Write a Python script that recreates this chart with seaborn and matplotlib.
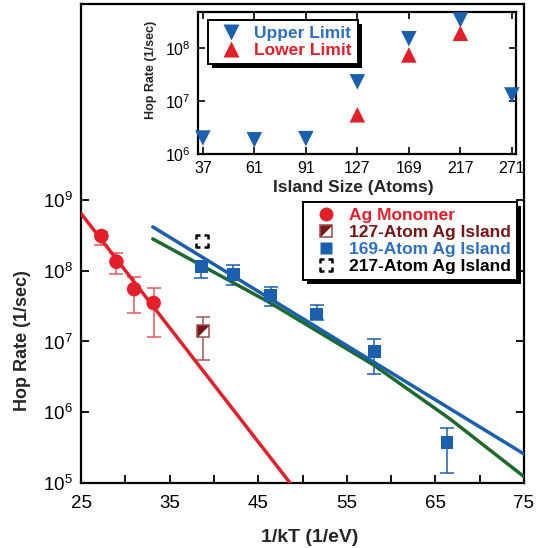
import numpy as np
import pandas as pd
import matplotlib
matplotlib.use("Agg")
import matplotlib.pyplot as plt
import seaborn as sns
from matplotlib.lines import Line2D
from matplotlib.path import Path
from matplotlib.patches import Rectangle
from matplotlib.transforms import IdentityTransform
from matplotlib.ticker import NullLocator

# ---------------- data ----------------
# main panel: hop rate vs 1/kT
mono_x = [27.3, 29.0, 31.0, 33.2]
mono_y = [3.1e8, 1.34e8, 5.5e7, 3.5e7]
mono_lo = [2.29e8, 8.9e7, 2.55e7, 1.17e7]
mono_hi = [3.55e8, 1.8e8, 8.24e7, 5.75e7]

isl127_x = [38.8]
isl127_y = [1.4e7]
isl127_lo = [5.5e6]
isl127_hi = [2.19e7]

isl169_x = [38.6, 42.2, 46.4, 51.6, 58.1, 66.3]
isl169_y = [1.14e8, 8.9e7, 4.5e7, 2.45e7, 7.2e6, 3.7e5]
isl169_lo = [7.8e7, 6.3e7, 3.2e7, 2.0e7, 3.47e6, 1.37e5]
isl169_hi = [1.35e8, 1.2e8, 5.96e7, 3.28e7, 1.07e7, 6.0e5]

isl217_x = [38.7]
isl217_y = [2.6e8]

# fit lines (log10 of rate at given 1/kT)
fit_mono_x = [25.0, 48.6]
fit_mono_logy = [8.81, 5.0]
fit_blue_x = [33.1, 75.0]
fit_blue_logy = [8.62, 5.41]
fit_green_x = [33.1, 46.3, 58.0, 66.6, 75.0]
fit_green_logy = [8.45, 7.55, 6.67, 5.91, 5.09]

legend_labels = ["Ag Monomer", "127-Atom Ag Island", "169-Atom Ag Island", "217-Atom Ag Island"]

main_xticks = [25, 30, 35, 40, 45, 50, 55, 60, 65, 70, 75]
main_xticklabels = ["25", "", "35", "", "45", "", "55", "", "65", "", "75"]
main_yticks = [1e5, 1e6, 1e7, 1e8, 1e9]
main_yticklabels = [r"$\mathregular{10^{5}}$", r"$\mathregular{10^{6}}$", r"$\mathregular{10^{7}}$",
                    r"$\mathregular{10^{8}}$", r"$\mathregular{10^{9}}$"]

# inset: limits vs island size
island_sizes = ["37", "61", "91", "127", "169", "217", "271"]
upper_sizes = ["37", "61", "91", "127", "169", "217", "271"]
upper_vals = [2.0e6, 1.85e6, 1.95e6, 2.3e7, 1.5e8, 3.4e8, 1.3e7]
lower_sizes = ["127", "169", "217"]
lower_vals = [5.5e6, 7.4e7, 1.9e8]
inset_yticks = [1e6, 1e7, 1e8]
inset_yticklabels = [r"$\mathregular{10^{6}}$", r"$\mathregular{10^{7}}$", r"$\mathregular{10^{8}}$"]
inset_legend_labels = ["Upper Limit", "Lower Limit"]

# ---------------- style ----------------
RED = "#e3202a"
DARKRED = "#7a1616"
DARKRED_EDGE = "#a65656"
BLUE = "#1a5fb0"
BLUE_TXT = "#2f6fc4"
GREEN = "#1d6b2c"

sns.set_theme(style="ticks")
plt.rcParams["font.family"] = ["Liberation Sans", "DejaVu Sans"]
plt.rcParams["mathtext.fontset"] = "custom"
plt.rcParams["mathtext.rm"] = "Liberation Sans"
plt.rcParams["mathtext.it"] = "Liberation Sans:italic"
plt.rcParams["mathtext.bf"] = "Liberation Sans:bold"

W, H = 541, 548
fig = plt.figure(figsize=(W / 100, H / 100), dpi=100)

def fx(px):
    return px / W

def fy(py):
    return 1 - py / H

# ---------------- main axes ----------------
ax = fig.add_axes([fx(81), fy(483), (524 - 81) / W, (483 - 4) / H])
ax.set_yscale("log")

# fit lines
sns.lineplot(x=fit_mono_x, y=10 ** np.array(fit_mono_logy), ax=ax, color=RED, lw=2.5,
             estimator=None, sort=False, zorder=3)
sns.lineplot(x=fit_green_x, y=10 ** np.array(fit_green_logy), ax=ax, color=GREEN, lw=2.5,
             estimator=None, sort=False, zorder=3)
sns.lineplot(x=fit_blue_x, y=10 ** np.array(fit_blue_logy), ax=ax, color=BLUE, lw=2.5,
             estimator=None, sort=False, zorder=3)

def yerr(y, lo, hi):
    y = np.array(y); lo = np.array(lo); hi = np.array(hi)
    return [y - lo, hi - y]

ax.errorbar(mono_x, mono_y, yerr=yerr(mono_y, mono_lo, mono_hi), fmt="none",
            ecolor="#e5585c", elinewidth=1.1, capsize=5, capthick=1.1, zorder=2)
ax.errorbar(isl127_x, isl127_y, yerr=yerr(isl127_y, isl127_lo, isl127_hi), fmt="none",
            ecolor=DARKRED_EDGE, elinewidth=1.1, capsize=5, capthick=1.1, zorder=2)
ax.errorbar(isl169_x, isl169_y, yerr=yerr(isl169_y, isl169_lo, isl169_hi), fmt="none",
            ecolor=BLUE, elinewidth=1.1, capsize=5, capthick=1.1, zorder=2)

# markers
sns.scatterplot(x=mono_x, y=mono_y, ax=ax, marker="o", s=110, color=RED,
                edgecolor="none", zorder=4)
sns.scatterplot(x=isl169_x, y=isl169_y, ax=ax, marker="s", s=85, color=BLUE,
                edgecolor="none", zorder=4)

tri_marker = Path([(-1, -1), (-1, 1), (1, 1), (-1, -1)],
                  [Path.MOVETO, Path.LINETO, Path.LINETO, Path.CLOSEPOLY])
ax.plot(isl127_x, isl127_y, ls="none", marker="s", ms=8.5, mfc="white",
        mec=DARKRED_EDGE, mew=1.2, zorder=4)
ax.plot(isl127_x, isl127_y, ls="none", marker=tri_marker, ms=8.5, mfc=DARKRED,
        mec="none", zorder=5)

c = 0.3
corner_verts = [(-1, c), (-1, 1), (-c, 1),
                (c, 1), (1, 1), (1, c),
                (1, -c), (1, -1), (c, -1),
                (-c, -1), (-1, -1), (-1, -c)]
corner_codes = [Path.MOVETO, Path.LINETO, Path.LINETO] * 4
corner_marker = Path(corner_verts, corner_codes)
ax.plot(isl217_x, isl217_y, ls="none", marker=corner_marker, ms=9, mfc="none",
        mec="black", mew=1.8, zorder=4)

ax.set_xlim(25, 75)
ax.set_ylim(1e5, 10 ** 11.77)
ax.set_xticks(main_xticks, main_xticklabels)
ax.set_yticks(main_yticks, main_yticklabels)
ax.yaxis.set_minor_locator(NullLocator())
ax.tick_params(axis="both", which="major", direction="in", length=6, width=1.3,
               color="black", labelsize=13.5, labelcolor="black")
ax.tick_params(axis="y", right=True, pad=6)
ax.tick_params(axis="x", top=False, pad=9)
for sp in ax.spines.values():
    sp.set_visible(True)
    sp.set_linewidth(1.6)
    sp.set_color("black")
ax.set_xlabel("")
ax.set_ylabel("")

fig.text(fx(23), fy(341), "Hop Rate (1/sec)", rotation=90, ha="center", va="center",
         fontsize=13, fontweight="bold")
fig.text(fx(310), fy(537), "1/kT (1/eV)", ha="center", va="center",
         fontsize=14, fontweight="bold")

handles = [
    Line2D([], [], ls="none", marker="o", ms=10, color=RED, mec="none"),
    (Line2D([], [], ls="none", marker="s", ms=8.5, mfc="white", mec=DARKRED_EDGE, mew=1.2),
     Line2D([], [], ls="none", marker=tri_marker, ms=8.5, mfc=DARKRED, mec="none")),
    Line2D([], [], ls="none", marker="s", ms=9, color=BLUE, mec="none"),
    Line2D([], [], ls="none", marker=corner_marker, ms=9, mfc="none", mec="black", mew=1.8),
]
leg = ax.legend(handles, legend_labels, loc="upper left",
                bbox_to_anchor=(fx(302.7), fy(201.7)), bbox_transform=fig.transFigure,
                frameon=True, fancybox=False, framealpha=1, edgecolor="black",
                borderaxespad=0, borderpad=0.35, labelspacing=0.1, handlelength=2.0,
                handletextpad=0.3, prop={"weight": "bold", "size": 12.5})
leg.get_frame().set_linewidth(1.4)
for t, col in zip(leg.get_texts(), [RED, DARKRED, BLUE_TXT, "black"]):
    t.set_color(col)

# ---------------- inset axes ----------------
axi = fig.add_axes([fx(197.7), fy(154), (516 - 197.7) / W, (154 - 12) / H])
axi.set_facecolor("white")
axi.set_yscale("log")

up_pos = [island_sizes.index(s) for s in upper_sizes]
lo_pos = [island_sizes.index(s) for s in lower_sizes]
sns.scatterplot(x=up_pos, y=upper_vals, ax=axi, marker="v", s=125, color=BLUE,
                edgecolor="none", clip_on=False, zorder=4)
sns.scatterplot(x=lo_pos, y=lower_vals, ax=axi, marker="^", s=125, color=RED,
                edgecolor="none", clip_on=False, zorder=4)

axi.set_xlim(-0.1, 6.08)
axi.set_ylim(1e6, 10 ** 8.68)
axi.set_xticks(range(len(island_sizes)), island_sizes)
axi.set_yticks(inset_yticks, inset_yticklabels)
axi.yaxis.set_minor_locator(NullLocator())
axi.tick_params(axis="both", which="major", direction="in", length=5, width=1.2,
                color="black", labelsize=11.5, labelcolor="black")
axi.tick_params(axis="x", top=True, pad=5)
axi.tick_params(axis="y", right=True, pad=5)
for sp in axi.spines.values():
    sp.set_visible(True)
    sp.set_linewidth(1.6)
    sp.set_color("black")
axi.set_xlabel("")
axi.set_ylabel("")
fig.text(fx(353), fy(187), "Island Size (Atoms)", ha="center", va="center",
         fontsize=12.5, fontweight="bold")
fig.text(fx(151), fy(70), "Hop Rate (1/sec)", rotation=90, ha="center", va="center",
         fontsize=9, fontweight="bold")

ihandles = [Line2D([], [], ls="none", marker="v", ms=11, color=BLUE, mec="none"),
            Line2D([], [], ls="none", marker="^", ms=11, color=RED, mec="none")]
ileg = axi.legend(ihandles, inset_legend_labels, loc="upper left",
                  bbox_to_anchor=(fx(208), fy(20)), bbox_transform=fig.transFigure,
                  frameon=True, fancybox=False, framealpha=1, edgecolor="black",
                  borderaxespad=0, borderpad=0.35, labelspacing=0.1, handlelength=2.0,
                  handletextpad=0.3, prop={"weight": "bold", "size": 12.5})
ileg.get_frame().set_linewidth(1.4)
for t, col in zip(ileg.get_texts(), [BLUE_TXT, RED]):
    t.set_color(col)

# drop shadows for the legends
fig.canvas.draw()
renderer = fig.canvas.get_renderer()
for a, lg in [(ax, leg), (axi, ileg)]:
    bb = lg.get_frame().get_window_extent(renderer)
    sh = Rectangle((bb.x0 + 4, bb.y0 - 4), bb.width, bb.height, transform=IdentityTransform(),
                   facecolor="black", edgecolor="none", zorder=lg.get_zorder() - 0.5,
                   clip_on=False)
    a.add_artist(sh)

fig.savefig("out.png", dpi=100)
